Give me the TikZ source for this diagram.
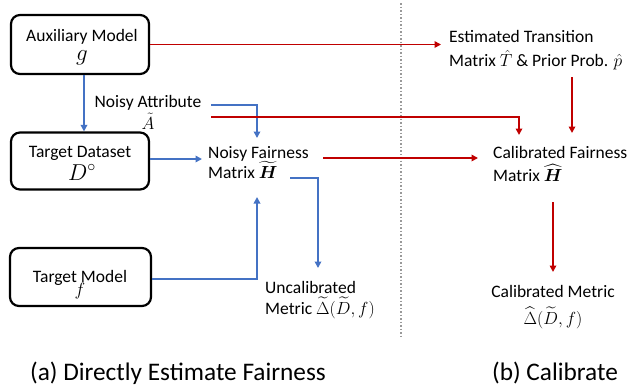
\RequirePackage{fix-cm}
\documentclass[tikz,border=0pt]{standalone}
\usepackage{amsmath,amssymb}
\usepackage{fontspec}
\setmainfont{Carlito}
\usetikzlibrary{arrows.meta}
\definecolor{myred}{HTML}{C00000}
\definecolor{myblue}{HTML}{4472C4}
\begin{document}
\begin{tikzpicture}[x=1pt,y=-1pt,
  box/.style={draw=black,line width=2.2pt,rounded corners=9pt,inner sep=0pt},
  boxtxt/.style={inner sep=0pt,anchor=base,font=\fontsize{17.5}{21}\selectfont},
  boxmath/.style={inner sep=0pt,anchor=base,font=\fontsize{23}{23}\selectfont},
  lbl/.style={inner sep=0pt,font=\fontsize{17.5}{21}\selectfont},
  captext/.style={inner sep=0pt,font=\fontsize{25.3}{28}\selectfont},
  barr/.style={draw=myblue,line width=1.9pt,-{Triangle[length=6.5pt,width=6.5pt]}},
  rarr/.style={draw=myred,line width=1.9pt,-{Triangle[length=6.5pt,width=6.5pt]}}]
\useasboundingbox (0,0) rectangle (631,389);
% boxes
\node[box,minimum width=138pt,minimum height=59pt] (aux) at (80,44.5) {};
\node[boxtxt] (auxt) at (82,41) {Auxiliary Model};
\node[boxmath] (auxm) at (82,60) {$g$};
\node[box,minimum width=138pt,minimum height=57pt] (tds) at (80,161) {};
\node[boxtxt] (tdst) at (80,157) {Target Dataset};
\node[boxmath] (tdsm) at (82,180) {$D^{\circ}$};
\node[box,minimum width=141pt,minimum height=58pt] (tm) at (80.5,277) {};
\node[boxtxt] (tmt) at (80,282) {Target Model};
\node[boxmath,font=\fontsize{18}{18}\selectfont] (tmm) at (80,295) {$f$};
% labels
\node[lbl,align=center] (na) at (148,112) {Noisy Attribute\\[1pt]$\tilde{A}$};
\node[lbl,align=left,anchor=west] (nfm) at (208,163) {Noisy Fairness\\[-1pt]Matrix $\widetilde{\boldsymbol{H}}$};
\node[lbl,align=left,anchor=west] (um) at (265,300) {Uncalibrated\\[0pt]Metric $\widetilde{\Delta}(\widetilde{D},f)$};
\node[lbl,align=left,anchor=west] (est) at (449,50.5) {Estimated Transition\\[3pt]Matrix $\hat{T}$ \& Prior Prob. $\hat{p}$};
\node[lbl,align=left,anchor=west] (cfm) at (493,164) {Calibrated Fairness\\[2pt]Matrix $\widehat{\boldsymbol{H}}$};
\node[lbl,align=center] (cm) at (553,307) {Calibrated Metric\\[6pt]$\widehat{\Delta}(\widetilde{D},f)$};
\node[captext] (capa) at (178,373) {(a) Directly Estimate Fairness};
\node[captext] (capb) at (555,373) {(b) Calibrate};
% divider
\coordinate (dtop) at (401,3);
\coordinate (dbot) at (401,338);
\draw[gray!80,line width=1.5pt,dotted] (dtop) -- (dbot);
% connector points
\coordinate (naB) at (211,105);
\coordinate (naR) at (211,117);
\coordinate (nfmB) at (290,178);
\coordinate (nfmR) at (323,158);
\coordinate (estB) at (572,77);
\coordinate (cfmB) at (553,202);
\coordinate (nfmTop) at (257,138);
\coordinate (nfmBot) at (257,197);
\coordinate (umTop) at (318,268);
\coordinate (cfmTopL) at (519,135);
\coordinate (cfmTopR) at (572,133);
\coordinate (cfmL) at (478,158);
\coordinate (cmTop) at (553,272);
\coordinate (estL) at (441,44.5);
\coordinate (nfmL) at (202,159);
\coordinate (tmR) at (257,279);
% blue connectors
\draw[barr] ([xshift=4pt]aux.south) -- ([xshift=4pt]tds.north);
\draw[barr] (tds.east |- nfmL) -- (nfmL);
\draw[barr] (naB) -| (nfmTop);
\draw[barr] (nfmB) -| (umTop);
\draw[barr] (tm.east |- tmR) -- (tmR) -- (nfmBot);
% red connectors
\draw[rarr] (aux.east) -- (estL);
\draw[rarr] (naR) -| (cfmTopL);
\draw[rarr] (nfmR) -- (cfmL);
\draw[rarr] (estB) -- (cfmTopR);
\draw[rarr] (cfmB) -- (cmTop);
\end{tikzpicture}
\end{document}
